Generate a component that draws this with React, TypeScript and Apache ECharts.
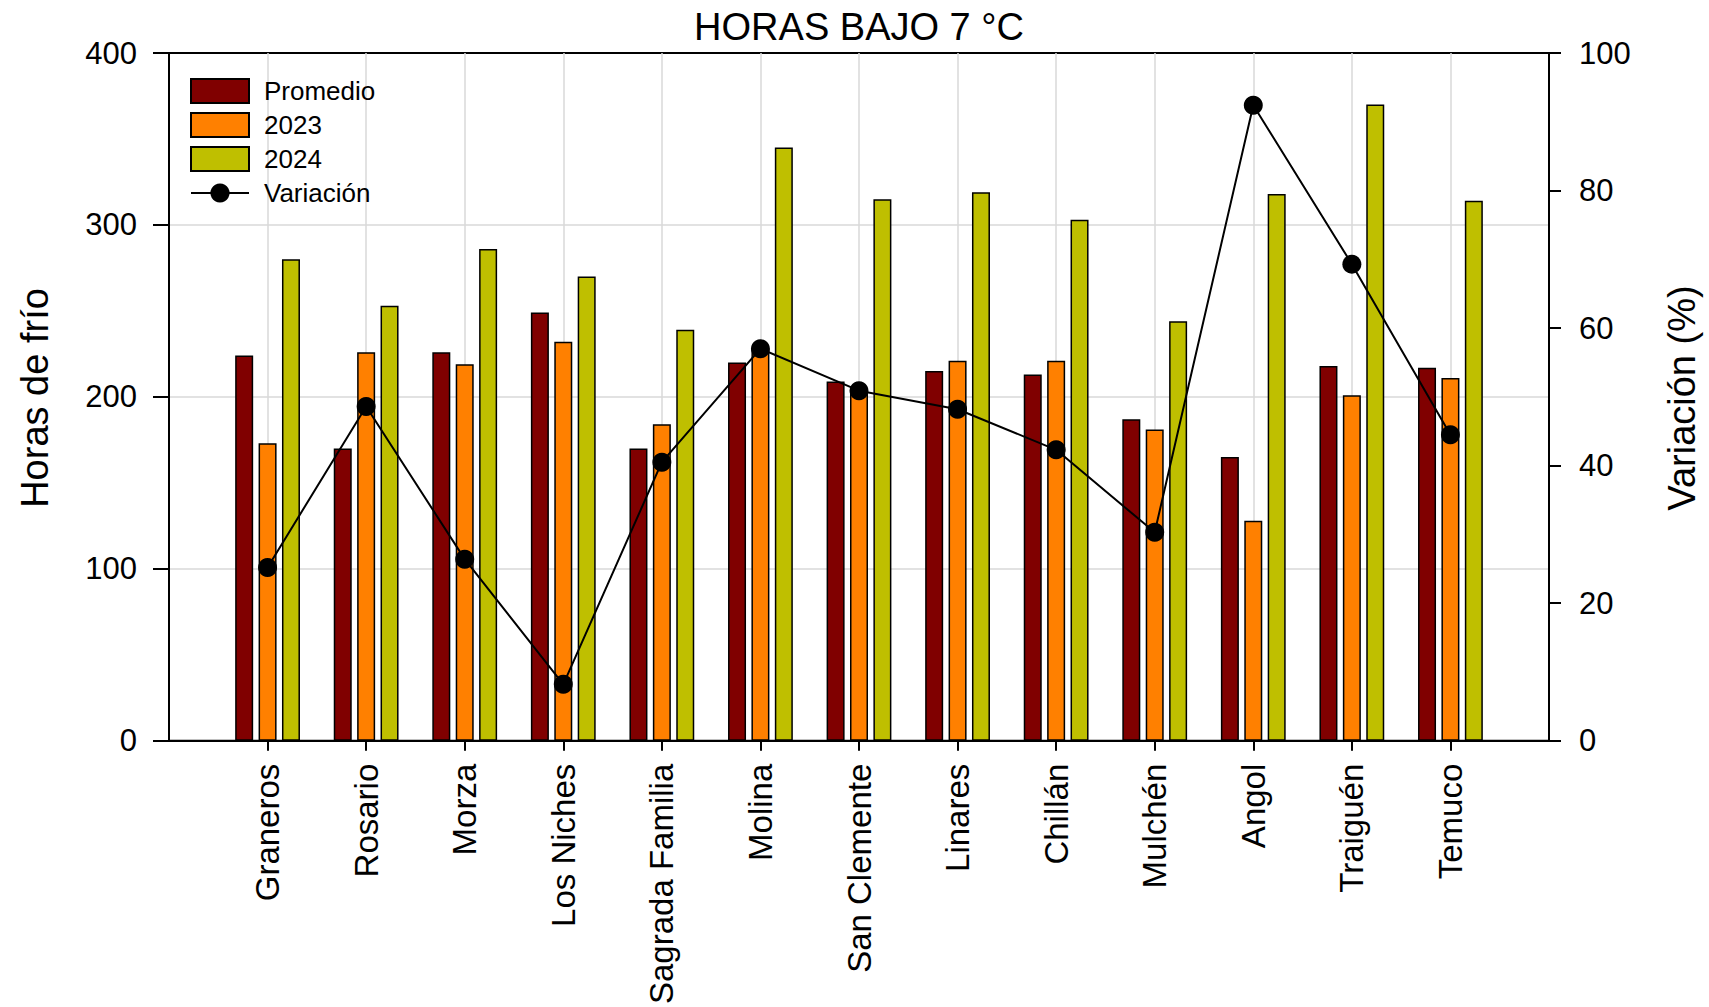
import React, { useEffect, useRef } from "react";
import * as echarts from "echarts";

const categories = ["Graneros", "Rosario", "Morza", "Los Niches", "Sagrada Familia", "Molina", "San Clemente", "Linares", "Chillán", "Mulchén", "Angol", "Traiguén", "Temuco"];
const promedio = [224, 170, 226, 249, 170, 220, 209, 215, 213, 187, 165, 218, 217];
const horas2023 = [173, 226, 219, 232, 184, 228, 205, 221, 221, 181, 128, 201, 211];
const horas2024 = [280, 253, 286, 270, 239, 345, 315, 319, 303, 244, 318, 370, 314];
const variacion = [25.2, 48.6, 26.4, 8.2, 40.5, 57.0, 50.9, 48.2, 42.3, 30.3, 92.4, 69.3, 44.5];
const leftTicks = { min: 0, max: 400, interval: 100 };
const rightTicks = { min: 0, max: 100, interval: 20 };

const FONT = "Liberation Sans, Arial, sans-serif";

export default function App() {
  const ref = useRef<HTMLDivElement>(null);
  useEffect(() => {
    document.body.style.margin = "0";
    const chart = echarts.init(ref.current!, null, { renderer: "svg" });
    const pad = (a: number[]) => [null, ...a, null];
    const cats = ["", ...categories, ""];
    const inner = (i: number) => i > 0 && i < cats.length - 1;
    const barStyle = (color: string) => ({ color, borderColor: "#000", borderWidth: 1.5 });
    const BW = 18;
    const GAP = "30%";
    chart.setOption({
      animation: false,
      backgroundColor: "#fff",
      textStyle: { fontFamily: FONT },
      grid: {
        left: 169, right: 160, top: 53, bottom: 263,
        show: true, borderColor: "#000", borderWidth: 2, backgroundColor: "transparent",
      },
      legend: {
        orient: "vertical", left: 185, top: 73, padding: 5,
        itemWidth: 58, itemHeight: 24, itemGap: 8,
        textStyle: { fontSize: 26, lineHeight: 26, color: "#000", fontFamily: FONT, padding: [0, 0, 0, 10] },
        data: [
          { name: "Promedio", icon: "rect" },
          { name: "2023", icon: "rect" },
          { name: "2024", icon: "rect" },
          { name: "Variación" },
        ],
      },
      xAxis: {
        type: "category", data: cats, boundaryGap: false,
        axisLine: { show: true, lineStyle: { color: "#000", width: 2 } },
        axisTick: { show: true, interval: (i: number) => inner(i), length: 10, lineStyle: { color: "#000", width: 2 } },
        axisLabel: { rotate: 90, fontSize: 33, color: "#000", margin: 23, fontFamily: FONT, interval: 0 },
        splitLine: { show: true, interval: (i: number) => inner(i), lineStyle: { color: "#d9d9d9", width: 1.5 } },
      },
      yAxis: [
        {
          type: "value", ...leftTicks, position: "left",
          axisLine: { show: true, lineStyle: { color: "#000", width: 2 } },
          axisTick: { show: true, length: 16, lineStyle: { color: "#000", width: 2 } },
          axisLabel: { fontSize: 31, color: "#000", margin: 32, fontFamily: FONT },
          splitLine: { show: true, showMinLine: false, showMaxLine: false, lineStyle: { color: "#d9d9d9", width: 1.5 } },
        },
        {
          type: "value", ...rightTicks, position: "right",
          axisLine: { show: true, lineStyle: { color: "#000", width: 2 } },
          axisTick: { show: true, length: 12, lineStyle: { color: "#000", width: 2 } },
          axisLabel: { fontSize: 31, color: "#000", margin: 30, fontFamily: FONT },
          splitLine: { show: false },
        },
      ],
      graphic: [
        { type: "text", x: 859, y: 27, style: { text: "HORAS BAJO 7 °C", fontSize: 38, fontFamily: FONT, fill: "#000", textAlign: "center", textVerticalAlign: "middle", align: "center", verticalAlign: "middle" } },
        { type: "text", x: 35, y: 398, rotation: Math.PI / 2, style: { text: "Horas de frío", fontSize: 38, fontFamily: FONT, fill: "#000", textAlign: "center", textVerticalAlign: "middle", align: "center", verticalAlign: "middle" } },
        { type: "text", x: 1682, y: 398, rotation: Math.PI / 2, style: { text: "Variación (%)", fontSize: 38, fontFamily: FONT, fill: "#000", textAlign: "center", textVerticalAlign: "middle", align: "center", verticalAlign: "middle" } },
      ],
      series: [
        { name: "Promedio", type: "bar", data: pad(promedio), barWidth: BW, barGap: GAP, itemStyle: barStyle("#800000") },
        { name: "2023", type: "bar", data: pad(horas2023), barWidth: BW, barGap: GAP, itemStyle: barStyle("#ff8000") },
        { name: "2024", type: "bar", data: pad(horas2024), barWidth: BW, barGap: GAP, itemStyle: barStyle("#bfbf00") },
        {
          name: "Variación", type: "line", yAxisIndex: 1, data: pad(variacion), z: 5,
          symbol: "circle", symbolSize: 19,
          lineStyle: { color: "#000", width: 2 },
          itemStyle: { color: "#000" },
        },
      ],
    });
    return () => chart.dispose();
  }, []);
  return <div ref={ref} style={{ width: 1709, height: 1007 }} />;
}
